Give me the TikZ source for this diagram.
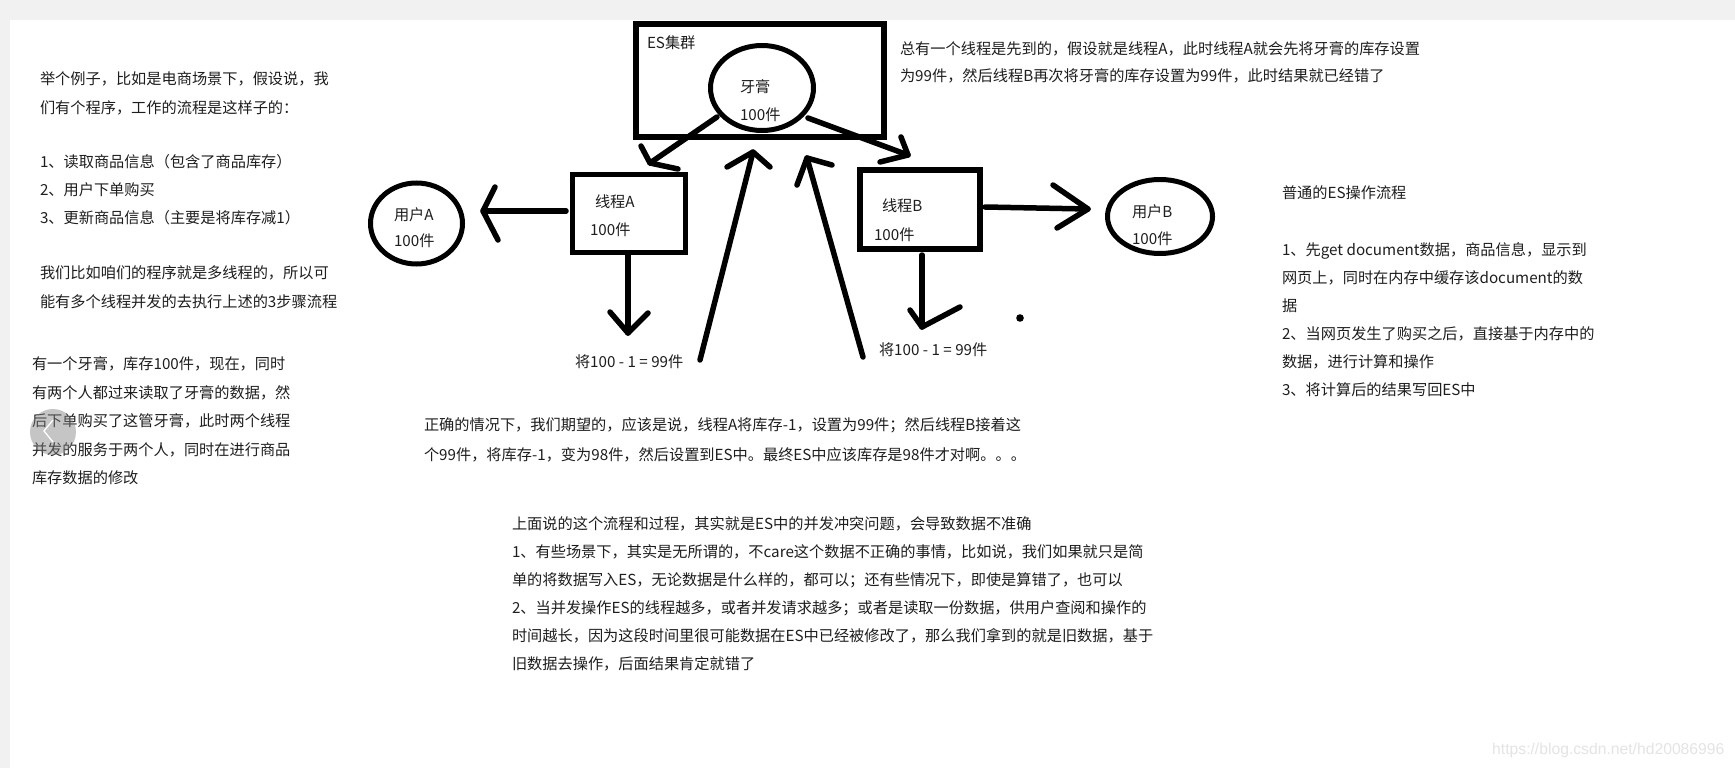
\documentclass[tikz,border=0pt]{standalone}
\usepackage{fontspec}
\setmainfont{Noto Sans CJK SC}
\newfontfamily\wmfont{Liberation Sans}
\usetikzlibrary{shapes.geometric}
\definecolor{txtc}{HTML}{1E1E1E}
\definecolor{bgc}{HTML}{F1F1F1}
\definecolor{wmc}{HTML}{E4E4E4}
\newcommand{\mytext}[4]{\node[txt] (#1) at (#2,#3+5.8) {#4};}
\begin{document}
\begin{tikzpicture}[x=1pt,y=-1pt,
  txt/.style={anchor=base west, inner sep=0pt, outer sep=0pt, text=txtc, font=\fontsize{15.2}{18}\selectfont},
  boxs/.style={draw=black, rectangle, line width=5.5pt, inner sep=0pt, outer sep=0pt},
  ell/.style={draw=black, ellipse, line width=5pt, inner sep=0pt, outer sep=0pt},
  hand/.style={draw=black, line width=5.5pt, line cap=round, line join=round}]
\useasboundingbox (0,0) rectangle (1735,768);
\fill[bgc] (0,0) rectangle (1735,768);
\fill[white] (10,20) rectangle (1735,768);

% ES cluster
\node[boxs, line width=6pt, minimum width=248pt, minimum height=113pt] (es) at (760,80.5) {};
\node[ell, minimum width=103pt, minimum height=85pt] (paste) at (762,88) {};
\mytext{esl}{647}{43}{ES集群}
\mytext{pastel}{740}{87}{牙膏}
\mytext{pastec}{740}{115}{100件}

% threads
\node[boxs, minimum width=113pt, minimum height=78pt] (thA) at (629,213.5) {};
\node[boxs, line width=6pt, minimum width=120pt, minimum height=79pt] (thB) at (920,209.5) {};
\mytext{thAl}{595}{202}{线程A}
\mytext{thAc}{590}{230}{100件}
\mytext{thBl}{882}{206}{线程B}
\mytext{thBc}{874}{235}{100件}

% users
\node[ell, minimum width=92pt, minimum height=81pt] (uA) at (416.5,223.5) {};
\node[ell, minimum width=105pt, minimum height=74pt] (uB) at (1160,216.5) {};
\mytext{uAl}{394}{214.5}{用户A}
\mytext{uAc}{394}{241}{100件}
\mytext{uBl}{1132}{212}{用户B}
\mytext{uBc}{1132}{239}{100件}

% results
\mytext{resA}{575}{362}{将100 - 1 = 99件}
\mytext{resB}{879}{350}{将100 - 1 = 99件}

% arrow ES -> thread A
\coordinate (a1s) at (717,117); \coordinate (a1t) at (650,163);
\coordinate (a1h1) at (641,146); \coordinate (a1h2) at (678,169);
\draw[hand] (a1s) -- (a1t); \draw[hand] (a1h1) -- (a1t) -- (a1h2);
% arrow ES -> thread B
\coordinate (a2s) at (808,118); \coordinate (a2t) at (908,155);
\coordinate (a2h1) at (901,137); \coordinate (a2h2) at (880,162);
\draw[hand] (a2s) -- (a2t); \draw[hand] (a2h1) -- (a2t) -- (a2h2);
% arrow result A -> ES
\coordinate (a3s) at (700,360); \coordinate (a3t) at (753,152);
\coordinate (a3h1) at (727,167); \coordinate (a3h2) at (770,167);
\draw[hand] (a3s) -- (a3t); \draw[hand] (a3h1) -- (a3t) -- (a3h2);
% arrow result B -> ES
\coordinate (a4s) at (863,357); \coordinate (a4t) at (807,158);
\coordinate (a4h1) at (797,185); \coordinate (a4h2) at (832,165);
\draw[hand] (a4s) -- (a4t); \draw[hand] (a4h1) -- (a4t) -- (a4h2);
% arrow thread A -> user A
\coordinate (a5s) at (566,211); \coordinate (a5t) at (483,211);
\coordinate (a5h1) at (495,187); \coordinate (a5h2) at (498,240);
\draw[hand] (a5s) -- (a5t); \draw[hand] (a5h1) -- (a5t) -- (a5h2);
% arrow thread B -> user B
\coordinate (a6s) at (985,207); \coordinate (a6t) at (1088,209);
\coordinate (a6h1) at (1053,185); \coordinate (a6h2) at (1057,228);
\draw[hand] (a6s) -- (a6t); \draw[hand] (a6h1) -- (a6t) -- (a6h2);
% arrow thread A down
\coordinate (a7s) at (628,255); \coordinate (a7t) at (628,333);
\coordinate (a7h1) at (610,312); \coordinate (a7h2) at (648,313);
\draw[hand] (a7s) -- (a7t); \draw[hand] (a7h1) -- (a7t) -- (a7h2);
% arrow thread B down
\coordinate (a8s) at (922,255); \coordinate (a8t) at (922,327);
\coordinate (a8h1) at (910,310); \coordinate (a8h2) at (960,307);
\draw[hand] (a8s) -- (a8t); \draw[hand] (a8h1) -- (a8t) -- (a8h2);
% dot
\fill[black] (1020,318) circle (3.8);

% left text block 1
\mytext{b1a}{40}{79}{举个例子，比如是电商场景下，假设说，我}
\mytext{b1b}{40}{107.7}{们有个程序，工作的流程是这样子的：}
\mytext{b1c}{40}{161.7}{1、读取商品信息（包含了商品库存）}
\mytext{b1d}{40}{189.5}{2、用户下单购买}
\mytext{b1e}{40}{217.5}{3、更新商品信息（主要是将库存减1）}
\mytext{b1f}{40}{273}{我们比如咱们的程序就是多线程的，所以可}
\mytext{b1g}{40}{301.5}{能有多个线程并发的去执行上述的3步骤流程}

% left text block 2
\mytext{b2a}{32}{364}{有一个牙膏，库存100件，现在，同时}
\mytext{b2b}{32}{392.5}{有两个人都过来读取了牙膏的数据，然}
\mytext{b2c}{32}{421}{后下单购买了这管牙膏，此时两个线程}
\mytext{b2d}{32}{449.5}{并发的服务于两个人，同时在进行商品}
\mytext{b2e}{32}{478}{库存数据的修改}

% top right text
\mytext{t1a}{900}{48.5}{总有一个线程是先到的，假设就是线程A，此时线程A就会先将牙膏的库存设置}
\mytext{t1b}{900}{76}{为99件，然后线程B再次将牙膏的库存设置为99件，此时结果就已经错了}

% middle text
\mytext{m1a}{424}{424.5}{正确的情况下，我们期望的，应该是说，线程A将库存-1，设置为99件；然后线程B接着这}
\mytext{m1b}{424}{455}{个99件，将库存-1，变为98件，然后设置到ES中。最终ES中应该库存是98件才对啊。。。}

% bottom text
\mytext{c1a}{512}{524}{上面说的这个流程和过程，其实就是ES中的并发冲突问题，会导致数据不准确}
\mytext{c1b}{512}{552}{1、有些场景下，其实是无所谓的，不care这个数据不正确的事情，比如说，我们如果就只是简}
\mytext{c1c}{512}{580}{单的将数据写入ES，无论数据是什么样的，都可以；还有些情况下，即使是算错了，也可以}
\mytext{c1d}{512}{608}{2、当并发操作ES的线程越多，或者并发请求越多；或者是读取一份数据，供用户查阅和操作的}
\mytext{c1e}{512}{636}{时间越长，因为这段时间里很可能数据在ES中已经被修改了，那么我们拿到的就是旧数据，基于}
\mytext{c1f}{512}{664}{旧数据去操作，后面结果肯定就错了}

% right text
\mytext{r1a}{1282}{193}{普通的ES操作流程}
\mytext{r1b}{1282}{250}{1、先get document数据，商品信息，显示到}
\mytext{r1c}{1282}{278}{网页上，同时在内存中缓存该document的数}
\mytext{r1d}{1282}{306}{据}
\mytext{r1e}{1282}{334}{2、当网页发生了购买之后，直接基于内存中的}
\mytext{r1f}{1282}{362}{数据，进行计算和操作}
\mytext{r1g}{1282}{390}{3、将计算后的结果写回ES中}

% carousel button
\fill[gray, fill opacity=0.45] (53,432) circle (23);
\draw[white, line width=1.3pt] (53,420) -- (44,431) -- (53,442);

% watermark
\node[anchor=base west, inner sep=0pt, text=wmc, font=\wmfont\fontsize{15.7}{18}\selectfont] (wm) at (1492,754) {https://blog.csdn.net/hd20086996};
\end{tikzpicture}
\end{document}
